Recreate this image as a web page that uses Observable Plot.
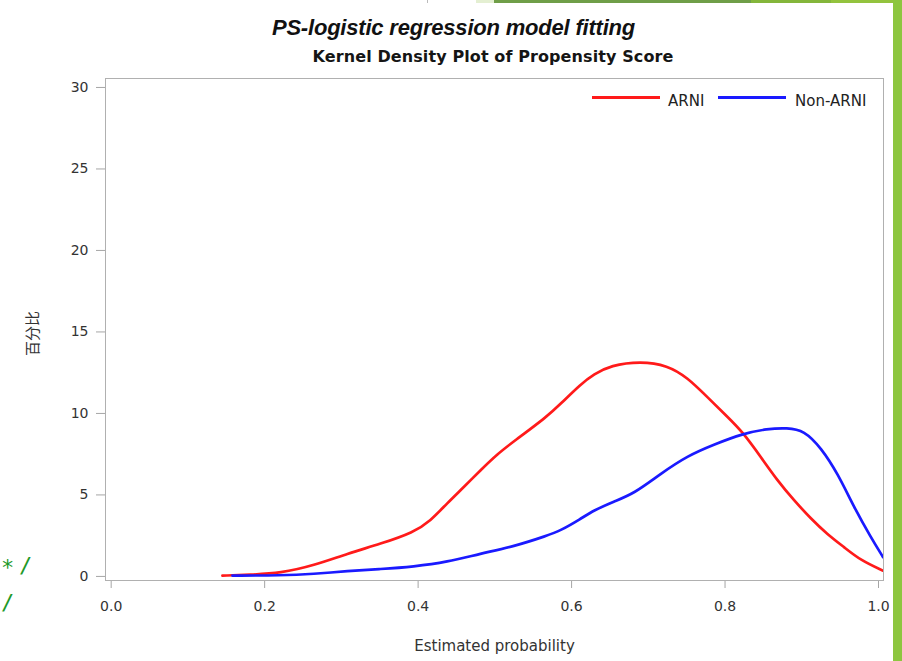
<!DOCTYPE html>
<html><head><meta charset="utf-8">
<script src="https://cdn.jsdelivr.net/npm/d3@7"></script>
<script src="https://cdn.jsdelivr.net/npm/@observablehq/plot@0.6"></script>
<style>
body{margin:0;background:#fff;}
#wrap{position:relative;width:902px;height:661px;overflow:hidden;background:#fff;font-family:"DejaVu Sans",sans-serif;}
#chart{position:absolute;left:0;top:0;}
.t{position:absolute;white-space:nowrap;line-height:1;}
#title{font-family:"Liberation Sans",Arial,sans-serif;font-weight:bold;font-style:italic;font-size:22px;color:#111;left:0;width:907px;text-align:center;top:17px;letter-spacing:-0.2px;}
#subtitle{font-family:"DejaVu Sans",sans-serif;font-weight:bold;font-size:16px;color:#151515;left:0;width:986px;text-align:center;top:49px;letter-spacing:0.1px;}
.leg-line{position:absolute;height:3px;}
.leg-txt{font-size:15px;color:#222;top:94px;}
.code{position:absolute;font-family:"DejaVu Sans Mono",monospace;font-size:22px;color:#1f9a2a;line-height:1;}
.deco{position:absolute;}
</style></head><body>
<div id="wrap">
  <div id="chart"></div>
  <div class="t" id="title">PS-logistic regression model fitting</div>
  <div class="t" id="subtitle">Kernel Density Plot of Propensity Score</div>
  <div class="leg-line" style="left:592px;top:95.5px;width:68px;background:#ff1a1a"></div>
  <div class="t leg-txt" id="leg1" style="left:668px"></div>
  <div class="leg-line" style="left:718px;top:95.5px;width:68px;background:#1a1aff"></div>
  <div class="t leg-txt" id="leg2" style="left:795px"></div>
  <div class="code" style="left:1px;top:557px">*</div>
  <div class="code" style="left:19px;top:555px">/</div>
  <div class="code" style="left:1px;top:592px">/</div>
  <div class="deco" style="left:427px;top:0;width:1px;height:3px;background:#bbb"></div>
  <div class="deco" style="left:476px;top:0;width:18px;height:3px;background:#e4efd2"></div>
  <div class="deco" style="left:494px;top:0;width:257px;height:3px;background:#6f9e48"></div>
  <div class="deco" style="left:751px;top:0;width:80px;height:3px;background:#84b63b"></div>
  <div class="deco" style="left:831px;top:0;width:62px;height:3px;background:#93c33e"></div>
  <div class="deco" style="left:893px;top:0;width:9px;height:661px;background:#8dc63f"></div>
</div>
<script>
const seriesNames = ["ARNI", "Non-ARNI"];
const seriesColors = ["#ff1a1a", "#1a1aff"];
const xTicks = [0, 0.2, 0.4, 0.6, 0.8, 1.0];
const yTicks = [0, 5, 10, 15, 20, 25, 30];
const xLabel = "Estimated probability";
const yLabel = "百分比";

const arniX = [0.145, 0.18, 0.221, 0.264, 0.308, 0.351, 0.394, 0.416, 0.438, 0.46, 0.481, 0.503, 0.525, 0.568, 0.586, 0.612, 0.629, 0.651, 0.69, 0.725, 0.751, 0.777, 0.803, 0.823, 0.847, 0.868, 0.89, 0.912, 0.933, 0.955, 0.977, 1.006];
const arniY = [0.05, 0.1, 0.2, 0.67, 1.4, 2.0, 2.7, 3.4, 4.5, 5.5, 6.5, 7.5, 8.3, 9.8, 10.6, 11.8, 12.4, 12.95, 13.2, 12.95, 12.2, 11.0, 9.8, 8.86, 7.3, 5.9, 4.66, 3.54, 2.6, 1.8, 0.98, 0.35];

const nonX = [0.158, 0.221, 0.264, 0.308, 0.351, 0.394, 0.438, 0.481, 0.525, 0.568, 0.586, 0.612, 0.629, 0.655, 0.681, 0.716, 0.751, 0.786, 0.823, 0.855, 0.881, 0.903, 0.925, 0.947, 0.968, 0.99, 1.006];
const nonY = [0.05, 0.06, 0.15, 0.33, 0.45, 0.6, 0.88, 1.4, 1.84, 2.5, 2.82, 3.54, 4.05, 4.6, 5.07, 6.3, 7.4, 8.1, 8.76, 9.06, 9.12, 8.96, 7.9, 6.3, 4.25, 2.4, 1.18];

document.getElementById("leg1").textContent = seriesNames[0];
document.getElementById("leg2").textContent = seriesNames[1];

const rows = [
  ...arniX.map((x, i) => ({x, y: arniY[i], s: seriesNames[0]})),
  ...nonX.map((x, i) => ({x, y: nonY[i], s: seriesNames[1]}))
];

const chart = Plot.plot({
  width: 902,
  height: 661,
  marginTop: 78,
  marginBottom: 81,
  marginLeft: 105,
  marginRight: 19,
  style: {fontFamily: "DejaVu Sans, sans-serif", fontSize: "14px", background: "transparent", color: "#333"},
  x: {domain: [-0.0074, 1.0065]},
  y: {domain: [-0.25, 30.55]},
  color: {domain: seriesNames, range: seriesColors},
  marks: [
    Plot.axisX({ticks: xTicks, tickFormat: d3.format(".1f"), tickSize: 8, tickPadding: 13, stroke: "#a6a6a6", fill: "#333", label: null}),
    Plot.axisY({ticks: yTicks, tickFormat: d3.format("d"), tickSize: 9, tickPadding: 8, stroke: "#a6a6a6", fill: "#333", label: null}),
    Plot.text([xLabel], {text: d => d, frameAnchor: "bottom", lineAnchor: "bottom", dy: 70, fontSize: 15, fill: "#333"}),
    Plot.text([yLabel], {text: d => d, frameAnchor: "left", textAnchor: "middle", lineAnchor: "middle", rotate: -90, dx: -72, dy: 4, fontSize: 15, fill: "#333", fontFamily: "Noto Sans CJK SC, DejaVu Sans, sans-serif"}),
    Plot.line(rows, {x: "x", y: "y", z: "s", stroke: "s", curve: "basis", strokeWidth: 2.7, clip: true}),
    Plot.frame({stroke: "#b0b0b0"})
  ]
});
document.getElementById("chart").appendChild(chart);
</script>
</body></html>
